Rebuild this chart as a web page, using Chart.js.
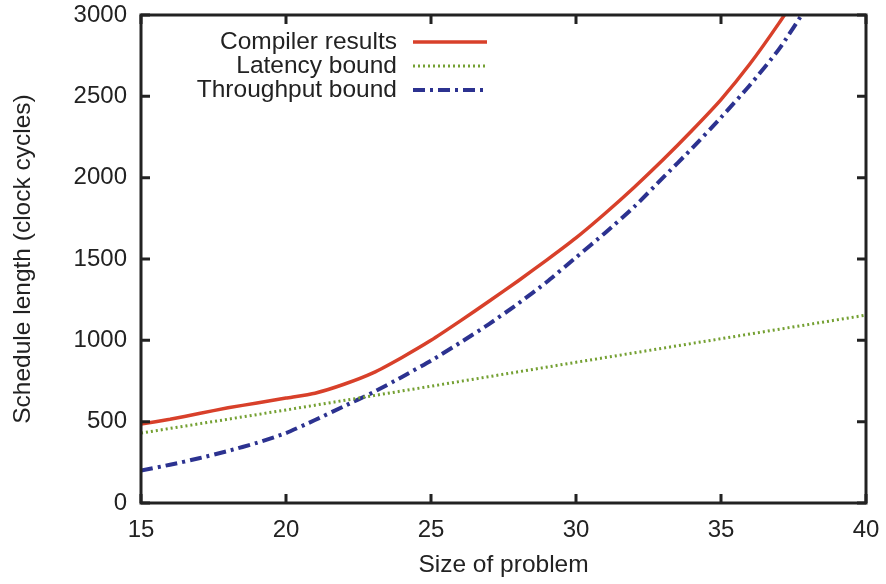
<!DOCTYPE html>
<html lang="en">
    <head>
        <meta charset="UTF-8" />
        <title>Schedule length vs size of problem</title>
        <script src="https://cdn.jsdelivr.net/npm/chart.js"></script>
        <style>
            html, body { margin: 0; padding: 0; background: #fff; }
            #wrap { width: 886px; height: 584px; }
        </style>
    </head>
    <body>
        <div id="wrap"><canvas id="chart"></canvas></div>

        <script>
            // values
            const problemSizes = [15, 16, 17, 18, 19, 20, 21, 22, 23, 24, 25, 26, 27, 28, 29, 30, 31, 32, 33, 34, 35, 36, 37, 38];
            const compilerResults = [485, 515, 550, 585, 615, 645, 675, 730, 800, 895, 1000, 1118, 1240, 1365, 1495, 1630, 1780, 1940, 2110, 2290, 2480, 2700, 2950, 3220];
            const throughputBound = [200, 235, 275, 320, 370, 430, 510, 595, 680, 775, 875, 985, 1100, 1225, 1360, 1510, 1660, 1820, 2000, 2180, 2370, 2570, 2790, 3060];
            const latencySizes = [15, 20, 25, 30, 35, 40];
            const latencyBound = [430, 572, 718, 865, 1010, 1155];

            const xTicks = [15, 20, 25, 30, 35, 40];
            const yTicks = [0, 500, 1000, 1500, 2000, 2500, 3000];

            const FONT = "'Liberation Sans', Arial, Helvetica, sans-serif";
            const TEXT = "#222";

            function toPoints(xs, ys) {
                return xs.map((x, i) => ({ x: x, y: ys[i] }));
            }

            // no label overhang padding, so the plot box keeps its fixed size
            function noPad(s) {
                s.paddingTop = 0;
                s.paddingBottom = 0;
                s.paddingLeft = 0;
                s.paddingRight = 0;
            }

            // inward tick marks on all four sides plus gnuplot-style legend
            const framePlugin = {
                id: "frame",
                afterDatasetsDraw(chart) {
                    const ctx = chart.ctx;
                    const a = chart.chartArea;
                    const xs = chart.scales.x;
                    const ys = chart.scales.y;
                    const len = 9;
                    ctx.save();
                    ctx.strokeStyle = TEXT;
                    ctx.lineWidth = 3;
                    ctx.beginPath();
                    xTicks.forEach((v) => {
                        const px = xs.getPixelForValue(v);
                        ctx.moveTo(px, a.bottom);
                        ctx.lineTo(px, a.bottom - len);
                        ctx.moveTo(px, a.top);
                        ctx.lineTo(px, a.top + len);
                    });
                    yTicks.forEach((v) => {
                        const py = ys.getPixelForValue(v);
                        ctx.moveTo(a.left, py);
                        ctx.lineTo(a.left + len, py);
                        ctx.moveTo(a.right, py);
                        ctx.lineTo(a.right - len, py);
                    });
                    ctx.stroke();
                    ctx.strokeRect(a.left, a.top, a.right - a.left, a.bottom - a.top);

                    // legend
                    ctx.font = "24.5px " + FONT;
                    ctx.fillStyle = TEXT;
                    ctx.textAlign = "right";
                    ctx.textBaseline = "middle";
                    const textRight = a.left + 256;
                    const lineStart = a.left + 272;
                    const lineEnd = a.left + 346;
                    chart.data.datasets.forEach((ds, i) => {
                        const y = a.top + 27 + i * 24;
                        ctx.fillText(ds.label, textRight, y);
                        ctx.beginPath();
                        ctx.setLineDash(ds.borderDash || []);
                        ctx.strokeStyle = ds.borderColor;
                        ctx.lineWidth = ds.borderWidth;
                        ctx.moveTo(lineStart, y);
                        ctx.lineTo(lineEnd, y);
                        ctx.stroke();
                    });
                    ctx.restore();
                },
            };

            new Chart(document.getElementById("chart"), {
                type: "line",
                data: {
                    datasets: [
                        {
                            label: "Compiler results",
                            data: toPoints(problemSizes, compilerResults),
                            borderColor: "#d8402a",
                            borderWidth: 3.5,
                            pointRadius: 0,
                            tension: 0.2,
                            clip: 0,
                        },
                        {
                            label: "Latency bound",
                            data: toPoints(latencySizes, latencyBound),
                            borderColor: "#74a032",
                            borderWidth: 3,
                            borderDash: [2, 3],
                            pointRadius: 0,
                            clip: 0,
                        },
                        {
                            label: "Throughput bound",
                            data: toPoints(problemSizes, throughputBound),
                            borderColor: "#2c3290",
                            borderWidth: 4,
                            borderDash: [12, 5, 3, 5],
                            pointRadius: 0,
                            tension: 0.2,
                            clip: 0,
                        },
                    ],
                },
                options: {
                    responsive: true,
                    maintainAspectRatio: false,
                    animation: false,
                    layout: { padding: 0 },
                    plugins: {
                        legend: { display: false },
                        tooltip: { enabled: false },
                    },
                    scales: {
                        x: {
                            type: "linear",
                            position: "bottom",
                            min: 15,
                            max: 40,
                            afterFit: (s) => { s.height = 81; noPad(s); },
                            afterBuildTicks: (s) => { s.ticks = xTicks.map((v) => ({ value: v })); },
                            grid: { display: false, drawTicks: false },
                            border: { display: false },
                            ticks: {
                                padding: 13,
                                color: TEXT,
                                font: { size: 24, family: FONT },
                                maxRotation: 0,
                                callback: (v) => String(v),
                            },
                            title: {
                                display: true,
                                text: "Size of problem",
                                color: TEXT,
                                font: { size: 24.5, family: FONT },
                                padding: { top: 0, bottom: 4 },
                            },
                        },
                        y: {
                            type: "linear",
                            position: "left",
                            min: 0,
                            max: 3000,
                            afterFit: (s) => { s.width = 141; noPad(s); },
                            afterBuildTicks: (s) => { s.ticks = yTicks.map((v) => ({ value: v })); },
                            grid: { display: false, drawTicks: false },
                            border: { display: false },
                            ticks: {
                                padding: 14,
                                color: TEXT,
                                font: { size: 24, family: FONT },
                                callback: (v) => String(v),
                            },
                            title: {
                                display: true,
                                text: "Schedule length (clock cycles)",
                                color: TEXT,
                                font: { size: 24.5, family: FONT },
                                padding: { top: 9, bottom: 0 },
                            },
                        },
                        x2: {
                            type: "linear",
                            position: "top",
                            min: 15,
                            max: 40,
                            afterFit: (s) => { s.height = 15; noPad(s); },
                            grid: { display: false, drawTicks: false },
                            border: { display: false },
                            ticks: { display: false },
                        },
                        y2: {
                            type: "linear",
                            position: "right",
                            min: 0,
                            max: 3000,
                            afterFit: (s) => { s.width = 20; noPad(s); },
                            grid: { display: false, drawTicks: false },
                            border: { display: false },
                            ticks: { display: false },
                        },
                    },
                },
                plugins: [framePlugin],
            });
        </script>
    </body>
</html>
